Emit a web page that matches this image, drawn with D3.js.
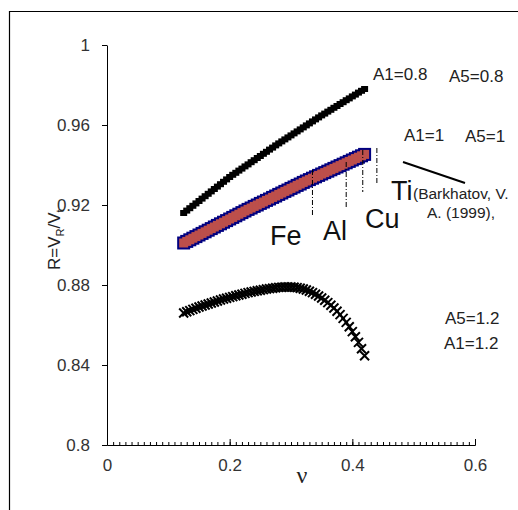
<!DOCTYPE html>
<html>
<head>
<meta charset="utf-8">
<script src="https://cdn.jsdelivr.net/npm/d3@7"></script>
<style>
  body { margin: 0; background: #fff; }
  svg { display: block; font-family: "Liberation Sans", Arial, sans-serif; }
</style>
</head>
<body>
<div id="chart"></div>
<script>
// Poisson ratio grid shared by all three series
const nu = [
  0.125, 0.13, 0.135, 0.14, 0.145, 0.15, 0.155, 0.16, 0.165, 0.17,
  0.175, 0.18, 0.185, 0.19, 0.195, 0.2, 0.205, 0.21, 0.215, 0.22,
  0.225, 0.23, 0.235, 0.24, 0.245, 0.25, 0.255, 0.26, 0.265, 0.27,
  0.275, 0.28, 0.285, 0.29, 0.295, 0.3, 0.305, 0.31, 0.315, 0.32,
  0.325, 0.33, 0.335, 0.34, 0.345, 0.35, 0.355, 0.36, 0.365, 0.37,
  0.375, 0.38, 0.385, 0.39, 0.395, 0.4, 0.405, 0.41, 0.415, 0.42
];

// A1=A5=0.8
const rA08 = [
  0.916, 0.9172, 0.9184, 0.9196, 0.9208, 0.922, 0.9232, 0.9244, 0.9256, 0.9268,
  0.928, 0.9292, 0.9304, 0.9316, 0.9328, 0.934, 0.9351, 0.9361, 0.9372, 0.9382,
  0.9393, 0.9403, 0.9414, 0.9424, 0.9435, 0.9445, 0.9456, 0.9466, 0.9477, 0.9487,
  0.9498, 0.9508, 0.9518, 0.9528, 0.9538, 0.9548, 0.9558, 0.9568, 0.9578, 0.9588,
  0.9598, 0.9608, 0.9618, 0.9628, 0.9638, 0.9648, 0.9657, 0.9667, 0.9676, 0.9686,
  0.9695, 0.9705, 0.9714, 0.9724, 0.9733, 0.9743, 0.9752, 0.9762, 0.9771, 0.978
];

// A1=A5=1
const rA10 = [
  0.901, 0.9018, 0.9026, 0.9034, 0.9042, 0.905, 0.9058, 0.9066, 0.9074, 0.9082,
  0.909, 0.9098, 0.9106, 0.9114, 0.9122, 0.913, 0.9138, 0.9146, 0.9154, 0.9162,
  0.917, 0.9178, 0.9185, 0.9193, 0.92, 0.9208, 0.9215, 0.9223, 0.923, 0.9238,
  0.9245, 0.9253, 0.926, 0.9268, 0.9275, 0.9283, 0.929, 0.9298, 0.9305, 0.9313,
  0.932, 0.9327, 0.9334, 0.9341, 0.9348, 0.9355, 0.9362, 0.9369, 0.9376, 0.9383,
  0.939, 0.9397, 0.9404, 0.9411, 0.9418, 0.9425, 0.9432, 0.9439, 0.9446, 0.9453
];

// A1=A5=1.2
const rA12 = [
  0.866, 0.8666, 0.8672, 0.8678, 0.8684, 0.869, 0.8695, 0.87, 0.8705, 0.871,
  0.8715, 0.872, 0.8725, 0.873, 0.8734, 0.8738, 0.8742, 0.8746, 0.875, 0.8754,
  0.8758, 0.8762, 0.8765, 0.8768, 0.8771, 0.8774, 0.8777, 0.878, 0.8782, 0.8784,
  0.8786, 0.8788, 0.8789, 0.879, 0.879, 0.879, 0.8789, 0.8787, 0.8784, 0.878,
  0.8775, 0.8769, 0.8762, 0.8754, 0.8745, 0.8735, 0.8724, 0.8712, 0.8699, 0.8685,
  0.8669, 0.8652, 0.8633, 0.8613, 0.8591, 0.8567, 0.8541, 0.8513, 0.8481, 0.8446
];

const yTicks = [0.8, 0.84, 0.88, 0.92, 0.96, 1];
const xTicks = [0, 0.2, 0.4, 0.6];

// metal markers: nu and the R range of the dash-dot line
const metals = ["Fe", "Al", "Cu", "Ti"];
const metalNu = [0.335, 0.39, 0.417, 0.44];
const metalTop = [0.9375, 0.9415, 0.9475, 0.9485];
const metalBottom = [0.914, 0.919, 0.9265, 0.93];

const width = 518, height = 510;

const svg = d3.select("#chart").append("svg")
  .attr("width", width)
  .attr("height", height);

// outer frame (left and top edges only visible)
svg.append("path")
  .attr("d", "M9.5,510V11.5H518")
  .attr("fill", "none")
  .attr("stroke", "#000")
  .attr("stroke-width", 1.2);

const x = d3.scaleLinear().domain([0, 0.6]).range([107, 475]);
const y = d3.scaleLinear().domain([0.8, 1]).range([445, 45]);

// Axes
svg.append("g")
  .attr("transform", `translate(${x(0)},0)`)
  .call(d3.axisLeft(y).tickValues(yTicks).tickSize(5).tickSizeOuter(0).tickPadding(12)
    .tickFormat((d) => String(+d.toFixed(2))));

const minor = d3.range(0, 61).map((i) => i / 100);
svg.append("g")
  .attr("transform", `translate(0,${y(0.8)})`)
  .call(d3.axisBottom(x).tickValues(minor).tickSize(-3).tickSizeOuter(0).tickFormat(""));

svg.append("g")
  .attr("transform", `translate(0,${y(0.8)})`)
  .call(d3.axisBottom(x).tickValues(xTicks).tickSize(-6).tickSizeOuter(0).tickPadding(14)
    .tickFormat((d) => String(d)));

svg.selectAll(".tick text")
  .attr("font-size", 17)
  .attr("fill", "#333")
  .attr("font-family", "Liberation Sans, Arial, sans-serif");
svg.selectAll(".domain, .tick line").attr("stroke", "#000");

// Axis titles
svg.append("text")
  .attr("x", 302)
  .attr("y", 483)
  .attr("text-anchor", "middle")
  .attr("font-family", "Liberation Serif, DejaVu Serif, serif")
  .attr("font-size", 24)
  .attr("fill", "#222")
  .text("ν");

const yTitle = svg.append("text")
  .attr("transform", "translate(60,270) rotate(-90)")
  .attr("font-size", 17)
  .attr("fill", "#222");
yTitle.append("tspan").text("R=V");
yTitle.append("tspan").attr("font-size", 11).attr("dy", 4).text("R");
yTitle.append("tspan").attr("dy", -4).text("/V");
yTitle.append("tspan").attr("font-size", 11).attr("dy", 4).text("t");

const pts = (r) => nu.map((n, i) => ({ nu: n, r: r[i] }));

// A=0.8: small black dashes
svg.append("g")
  .selectAll("rect")
  .data(pts(rA08))
  .join("rect")
  .attr("x", (d) => x(d.nu) - 3.5)
  .attr("y", (d) => y(d.r) - 3)
  .attr("width", 7)
  .attr("height", 6)
  .attr("fill", "#000");

// A=1: red squares with navy border (borders first so fills merge)
svg.append("g")
  .selectAll("rect")
  .data(pts(rA10))
  .join("rect")
  .attr("x", (d) => x(d.nu) - 6.5)
  .attr("y", (d) => y(d.r) - 6.5)
  .attr("width", 13)
  .attr("height", 13)
  .attr("fill", "#000080");
svg.append("g")
  .selectAll("rect")
  .data(pts(rA10))
  .join("rect")
  .attr("x", (d) => x(d.nu) - 4.5)
  .attr("y", (d) => y(d.r) - 4.5)
  .attr("width", 9)
  .attr("height", 9)
  .attr("fill", "#BC4F4B");

// A=1.2: crosses
svg.append("g")
  .selectAll("path")
  .data(pts(rA12))
  .join("path")
  .attr("transform", (d) => `translate(${x(d.nu)},${y(d.r)})`)
  .attr("d", "M-4.5,-4.5L4.5,4.5M-4.5,4.5L4.5,-4.5")
  .attr("stroke", "#000")
  .attr("stroke-width", 2)
  .attr("fill", "none");

// dash-dot lines for the metals
svg.append("g")
  .selectAll("line")
  .data(metals)
  .join("line")
  .attr("x1", (d, i) => x(metalNu[i]))
  .attr("x2", (d, i) => x(metalNu[i]))
  .attr("y1", (d, i) => y(metalTop[i]))
  .attr("y2", (d, i) => y(metalBottom[i]))
  .attr("stroke", "#000")
  .attr("stroke-width", 1)
  .attr("stroke-dasharray", "5,2,1,2");

// Labels
const bigLabels = [
  { t: "Fe", x: 270, y: 245 },
  { t: "Al", x: 323, y: 240 },
  { t: "Cu", x: 365, y: 228 },
  { t: "Ti", x: 391, y: 200 }
];
svg.append("g")
  .selectAll("text")
  .data(bigLabels)
  .join("text")
  .attr("x", (d) => d.x)
  .attr("y", (d) => d.y)
  .attr("font-size", 27)
  .attr("fill", "#111")
  .text((d) => d.t);

const smallLabels = [
  { t: "A1=0.8", x: 373, y: 80 },
  { t: "A5=0.8", x: 449, y: 82 },
  { t: "A1=1", x: 404, y: 141 },
  { t: "A5=1", x: 465, y: 142 },
  { t: "A5=1.2", x: 445, y: 324 },
  { t: "A1=1.2", x: 444, y: 349 },
  { t: "(Barkhatov, V.", x: 413, y: 199, s: 15.5 },
  { t: "A. (1999),", x: 427, y: 218, s: 15.5 }
];
svg.append("g")
  .selectAll("text")
  .data(smallLabels)
  .join("text")
  .attr("x", (d) => d.x)
  .attr("y", (d) => d.y)
  .attr("font-size", (d) => d.s || 17)
  .attr("fill", "#222")
  .text((d) => d.t);

// pointer line from the Ti label
svg.append("line")
  .attr("x1", 403).attr("y1", 162)
  .attr("x2", 465).attr("y2", 183)
  .attr("stroke", "#000")
  .attr("stroke-width", 2);
</script>
</body>
</html>
